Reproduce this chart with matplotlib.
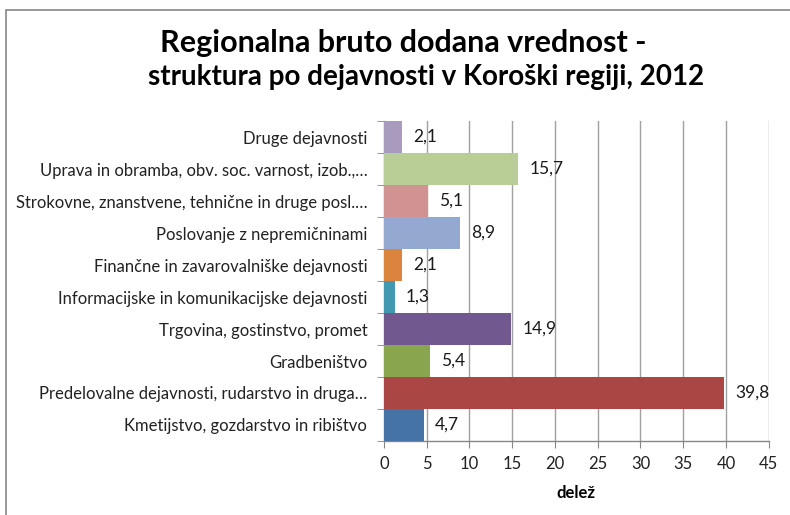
import numpy as np
import matplotlib
matplotlib.use("Agg")
from matplotlib import pyplot as plt
from matplotlib.patches import Rectangle

# data, bottom to top as in the chart
categories = [
    "Kmetijstvo, gozdarstvo in ribištvo",
    "Predelovalne dejavnosti, rudarstvo in druga…",
    "Gradbeništvo",
    "Trgovina, gostinstvo, promet",
    "Informacijske in komunikacijske dejavnosti",
    "Finančne in zavarovalniške dejavnosti",
    "Poslovanje z nepremičninami",
    "Strokovne, znanstvene, tehnične in druge posl.…",
    "Uprava in obramba, obv. soc. varnost, izob.,…",
    "Druge dejavnosti",
]
values = [4.7, 39.8, 5.4, 14.9, 1.3, 2.1, 8.9, 5.1, 15.7, 2.1]
colors = ["#4572A7", "#AA4643", "#89A54E", "#71588F", "#4198AF",
          "#DB843D", "#93A9CF", "#D19392", "#B9CD96", "#A99BBD"]
xticks = [0, 5, 10, 15, 20, 25, 30, 35, 40, 45]

plt.rcParams['font.family'] = ['Lato', 'DejaVu Sans']

fig = plt.figure(figsize=(7.9, 5.15), dpi=100)
ax = fig.add_axes([0.486, 0.1437, 0.487, 0.6213])

y = np.arange(len(categories))
ax.barh(y, values, height=1.0, color=colors, zorder=3)

for yi, v in zip(y, values):
    ax.annotate(("%.1f" % v).replace(".", ","), xy=(v, yi), xytext=(11, 0),
                textcoords="offset pixels", va="center", ha="left",
                fontsize=12.5, color="#1a1a1a")

ax.set_xlim(0, 45)
ax.set_ylim(-0.5, len(categories) - 0.5)
ax.set_xticks(xticks)
ax.set_xticklabels([str(t) for t in xticks], fontsize=12, color="#222222")
ax.set_yticks(y)
ax.set_yticklabels(categories, fontsize=12, color="#222222")
ax.set_yticks(np.arange(len(categories) + 1) - 0.5, minor=True)
ax.tick_params(axis="y", which="major", length=0, pad=12)
ax.tick_params(axis="y", which="minor", length=5, color="#868686", direction="out")
ax.tick_params(axis="x", length=5, color="#868686", direction="out", pad=6)

ax.grid(axis="x", color="#a0a0a0", linewidth=1, zorder=0)
for s in ["top", "right"]:
    ax.spines[s].set_visible(False)
for s in ["left", "bottom"]:
    ax.spines[s].set_color("#868686")
    ax.spines[s].set_linewidth(1)

ax.set_xlabel("delež", fontsize=12, fontweight="bold", labelpad=9)

fig.text(0.511, 0.899, "Regionalna bruto dodana vrednost -", ha="center", va="baseline",
         fontsize=22, fontweight="bold")
fig.text(0.539, 0.835, "struktura po dejavnosti v Koroški regiji, 2012", ha="center",
         va="baseline", fontsize=20, fontweight="bold")

# chart area frame (top and left visible)
fig.patches.append(Rectangle((6 / 790, -0.1), 1.2, 1.1 - 10 / 515,
                             transform=fig.transFigure, fill=False,
                             edgecolor="#868686", linewidth=1.2))

fig.savefig("out.png", dpi=100)
